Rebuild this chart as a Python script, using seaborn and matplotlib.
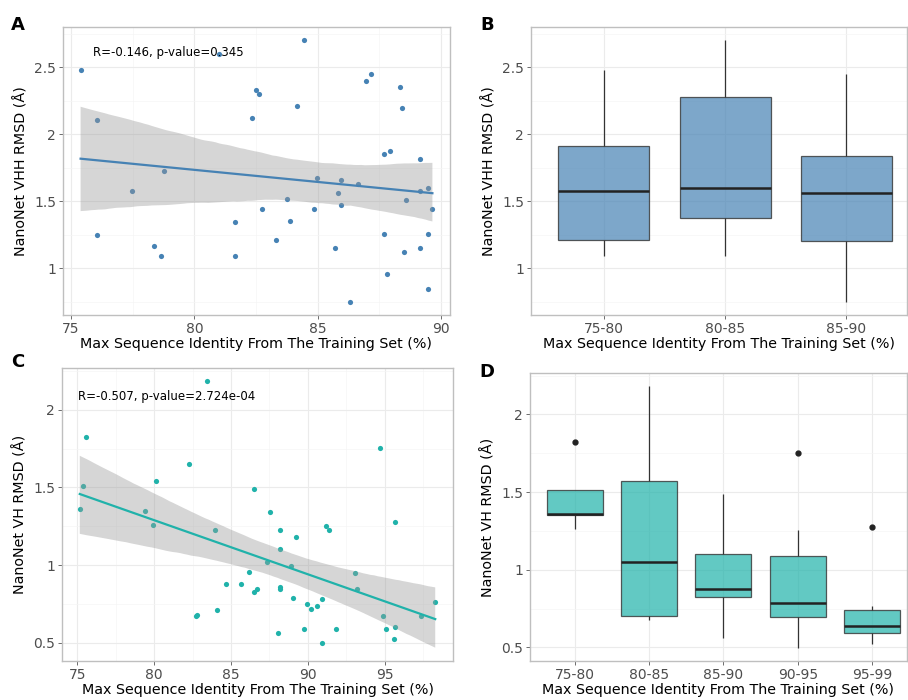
import numpy as np
import pandas as pd
import matplotlib
matplotlib.use("Agg")
import matplotlib.pyplot as plt
import seaborn as sns
from matplotlib.collections import PolyCollection
from matplotlib.ticker import MultipleLocator, FuncFormatter

# ─────────────────────────────────────────────
# DATA
# ─────────────────────────────────────────────
# VHH set: max sequence identity (%) vs RMSD (Å)
vhh_identity = [75.39, 76.04, 76.04, 77.46, 78.36, 78.65, 78.78,
                81.01, 81.64, 81.64, 82.32, 82.49, 82.62, 82.76, 83.31, 83.74,
                83.88, 84.15, 84.46, 84.85, 84.97,
                85.70, 85.81, 85.93, 85.95, 86.31, 86.65, 86.97, 87.18, 87.70,
                87.70, 87.81, 87.92, 88.32, 88.42, 88.49, 88.59, 89.15, 89.15,
                89.15, 89.46, 89.46, 89.46, 89.65]
vhh_rmsd = [2.475, 2.108, 1.250, 1.575, 1.166, 1.089, 1.721,
            2.599, 1.344, 1.091, 2.118, 2.329, 2.301, 1.443, 1.207, 1.517,
            1.351, 2.207, 2.701, 1.440, 1.671,
            1.153, 1.562, 1.468, 1.654, 0.748, 1.627, 2.398, 2.448, 1.855,
            1.252, 0.954, 1.870, 2.354, 2.197, 1.118, 1.510, 1.813, 1.579,
            1.150, 1.597, 1.252, 0.843, 1.443]

# VH set
vh_identity = [83.41, 75.58, 94.72, 82.28, 80.11, 75.37, 86.47, 75.17, 79.42,
               87.54, 79.96, 91.16, 95.67, 83.97, 88.17, 91.40, 89.22, 88.17,
               87.33, 88.92, 86.14, 93.04, 84.68, 85.65, 86.72, 86.49, 88.17,
               88.17, 93.21, 89.03, 90.93, 89.94, 90.22, 90.60, 98.28, 82.72,
               82.82, 84.09, 94.89, 97.37, 95.65, 95.05, 89.76, 91.83, 88.08,
               95.63, 90.93]
vh_rmsd = [2.183, 1.824, 1.752, 1.650, 1.543, 1.511, 1.489, 1.361, 1.350,
           1.343, 1.261, 1.254, 1.278, 1.224, 1.226, 1.228, 1.183, 1.102,
           1.017, 0.991, 0.957, 0.950, 0.876, 0.878, 0.848, 0.826, 0.859,
           0.846, 0.848, 0.791, 0.783, 0.750, 0.717, 0.735, 0.765, 0.674,
           0.676, 0.711, 0.670, 0.670, 0.602, 0.591, 0.591, 0.589, 0.563,
           0.524, 0.496]

vhh_bins = [75, 80, 85, 90]
vhh_labels = ["75-80", "80-85", "85-90"]
vh_bins = [75, 80, 85, 90, 95, 99]
vh_labels = ["75-80", "80-85", "85-90", "90-95", "95-99"]

vhh_stats = "R=-0.146, p-value=0.345"
vh_stats = "R=-0.507, p-value=2.724e-04"

XLABEL = "Max Sequence Identity From The Training Set (%)"
VHH_COLOR = "#4682B4"   # steelblue
VH_COLOR = "#20B2AA"    # lightseagreen

df_vhh = pd.DataFrame({"identity": vhh_identity, "rmsd": vhh_rmsd})
df_vhh["bin"] = pd.cut(df_vhh["identity"], bins=vhh_bins, labels=vhh_labels)
df_vh = pd.DataFrame({"identity": vh_identity, "rmsd": vh_rmsd})
df_vh["bin"] = pd.cut(df_vh["identity"], bins=vh_bins, labels=vh_labels)

# ─────────────────────────────────────────────
# FIGURE
# ─────────────────────────────────────────────
plt.rcParams["font.family"] = ["DejaVu Sans"]
W, H = 908, 700
fig = plt.figure(figsize=(W / 100, H / 100), dpi=100)


def px_axes(left, top, right, bottom):
    return fig.add_axes([left / W, 1 - bottom / H, (right - left) / W, (bottom - top) / H])


ax_a = px_axes(63, 27, 450, 315)
ax_b = px_axes(531, 27, 907, 315)
ax_c = px_axes(62, 368, 453, 661)
ax_d = px_axes(530, 373, 907, 661)

fmt = FuncFormatter(lambda v, p: f"{v:g}")


def style(ax, ylabel, xminor=None, yminor=0.25):
    for s in ax.spines.values():
        s.set_color("#BFBFBF")
        s.set_linewidth(1.0)
    ax.set_axisbelow(True)
    if xminor:
        ax.xaxis.set_minor_locator(MultipleLocator(xminor))
    ax.yaxis.set_minor_locator(MultipleLocator(yminor))
    ax.grid(True, which="major", color="#EBEBEB", lw=0.8)
    ax.grid(True, which="minor", color="#F5F5F5", lw=0.5)
    ax.tick_params(which="major", length=3, width=0.6, color="#555555",
                   labelcolor="#4D4D4D", labelsize=10, pad=2)
    ax.tick_params(which="minor", length=0)
    ax.yaxis.set_major_formatter(fmt)
    ax.set_xlabel(XLABEL, fontsize=10.3, labelpad=1)
    ax.set_ylabel(ylabel, fontsize=10.3, labelpad=4)


def scatter_panel(ax, df, color, stats, txt_xy, ylabel):
    sns.regplot(data=df, x="identity", y="rmsd", ax=ax, color=color, ci=95,
                n_boot=2000, seed=3,
                scatter_kws={"s": 14, "linewidths": 0, "alpha": 1},
                line_kws={"lw": 1.6})
    # grey confidence band, as in the original
    for coll in ax.collections:
        if isinstance(coll, PolyCollection):
            coll.set_facecolor((0.6, 0.6, 0.6))
            coll.set_alpha(0.4)
            coll.set_edgecolor("none")
    ax.xaxis.set_major_locator(MultipleLocator(5))
    ax.yaxis.set_major_locator(MultipleLocator(0.5))
    ax.xaxis.set_major_formatter(fmt)
    ax.text(txt_xy[0], txt_xy[1], stats, fontsize=8.5, va="center", ha="left")
    style(ax, ylabel, xminor=2.5)


def box_panel(ax, df, color, order, xlim, ylim, ylabel):
    sns.boxplot(data=df, x="bin", y="rmsd", order=order, ax=ax, color=color,
                saturation=1, width=0.75, linecolor="#333333", linewidth=0.9,
                whis=1.5, showcaps=False,
                medianprops={"color": "#222222", "linewidth": 1.8},
                flierprops={"marker": "o", "markersize": 3.5,
                            "markerfacecolor": "#222222", "markeredgecolor": "#222222"})
    for p in ax.patches:
        p.set_facecolor(matplotlib.colors.to_rgba(color, 0.7))
        p.set_edgecolor((0.2, 0.2, 0.2, 0.8))
    ax.set_xlim(*xlim)
    ax.set_ylim(*ylim)
    ax.yaxis.set_major_locator(MultipleLocator(0.5))
    style(ax, ylabel)
    ax.grid(True, which="major", axis="x", color="#EBEBEB", lw=0.8)


scatter_panel(ax_a, df_vhh, VHH_COLOR, vhh_stats, (75.9, 2.61), "NanoNet VHH RMSD (Å)")
scatter_panel(ax_c, df_vh, VH_COLOR, vh_stats, (75.06, 2.087), "NanoNet VH RMSD (Å)")

box_panel(ax_b, df_vhh, VHH_COLOR, vhh_labels, (-0.6, 2.5), ax_a.get_ylim(),
          "NanoNet VHH RMSD (Å)")
box_panel(ax_d, df_vh, VH_COLOR, vh_labels, (-0.6, 4.47), (0.412, 2.267),
          "NanoNet VH RMSD (Å)")

for letter, (x, y) in zip("ABCD", [(18, 25), (487, 25), (18, 362), (487, 372)]):
    fig.text(x / W, 1 - y / H, letter, fontsize=13, fontweight="bold",
             ha="center", va="center")

fig.savefig("out.png", dpi=100)
